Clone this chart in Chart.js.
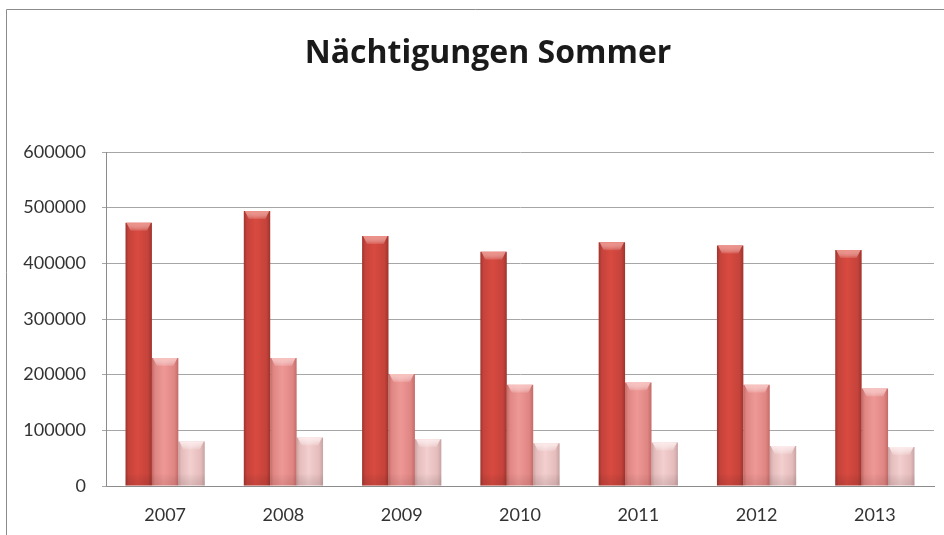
<!DOCTYPE html>
<html>
<head>
<meta charset="utf-8">
<script src="https://cdn.jsdelivr.net/npm/chart.js@4/dist/chart.umd.min.js"></script>
<style>
  html, body { margin: 0; padding: 0; background: #fff; }
  canvas { display: block; }
</style>
</head>
<body>
<canvas id="c" width="944" height="535"></canvas>
<script>
const titleText = "Nächtigungen Sommer";
const years = ["2007", "2008", "2009", "2010", "2011", "2012", "2013"];
const series1 = [473000, 494000, 449000, 421000, 438000, 432000, 424000];
const series2 = [230000, 230000, 201000, 182000, 186000, 182000, 175000];
const series3 = [80000, 87000, 84000, 77000, 78000, 72000, 70000];
const yTicks = [0, 100000, 200000, 300000, 400000, 500000, 600000];

const palettes = [
  { edge: "#9f342d", mid: "#d84a40", flat: "#c5433b", cap: "#ec8f86", bottom: "rgba(90,30,30,0.15)" },
  { edge: "#c46a68", mid: "#ee9896", flat: "#df8683", cap: "#f7c0bd", bottom: "rgba(90,40,40,0.12)" },
  { edge: "#c7a3a3", mid: "#f3cfcf", flat: "#e5bcbc", cap: "#fdeaea", bottom: "rgba(90,60,60,0.15)" }
];

function barFill(ctx) {
  const p = palettes[ctx.datasetIndex];
  const meta = ctx.chart.getDatasetMeta(ctx.datasetIndex);
  const el = meta && meta.data ? meta.data[ctx.dataIndex] : null;
  if (!el || !el.width || !isFinite(el.x)) return p.flat;
  const c = ctx.chart.ctx;
  const x0 = el.x - el.width / 2, x1 = el.x + el.width / 2;
  const g = c.createLinearGradient(x0, 0, x1, 0);
  g.addColorStop(0, p.edge);
  g.addColorStop(0.12, p.flat);
  g.addColorStop(0.45, p.mid);
  g.addColorStop(0.85, p.flat);
  g.addColorStop(1, p.edge);
  return g;
}

const framePlugin = {
  id: "frame",
  beforeDraw(chart) {
    const c = chart.ctx;
    c.save();
    c.strokeStyle = "#8c8c8c";
    c.lineWidth = 1;
    c.beginPath();
    c.moveTo(6.5, 535);
    c.lineTo(6.5, 9.5);
    c.lineTo(944, 9.5);
    c.stroke();
    c.restore();
  },
  afterDraw(chart) {
    const c = chart.ctx;
    c.save();
    c.fillStyle = "#1a1a1a";
    c.font = "bold 32px 'Open Sans'";
    c.textAlign = "center";
    c.textBaseline = "alphabetic";
    c.fillText(titleText, 488, 63);
    c.restore();
  }
};

const capPlugin = {
  id: "caps",
  afterDatasetsDraw(chart) {
    const c = chart.ctx;
    chart.data.datasets.forEach((ds, di) => {
      const meta = chart.getDatasetMeta(di);
      const p = palettes[di];
      meta.data.forEach(el => {
        const x0 = el.x - el.width / 2, w = el.width, y = el.y, b = el.base;
        c.save();
        const g = c.createLinearGradient(0, y, 0, y + 9);
        g.addColorStop(0, p.cap);
        g.addColorStop(1, "rgba(255,255,255,0)");
        c.fillStyle = g;
        c.beginPath();
        c.moveTo(x0 + 1, y);
        c.lineTo(x0 + w - 1, y);
        c.lineTo(x0 + w - 5, y + 8);
        c.lineTo(x0 + 5, y + 8);
        c.closePath();
        c.fill();
        const g2 = c.createLinearGradient(0, b - 12, 0, b);
        g2.addColorStop(0, "rgba(0,0,0,0)");
        g2.addColorStop(1, p.bottom);
        c.fillStyle = g2;
        c.fillRect(x0, b - 12, w, 12);
        c.restore();
      });
    });
  }
};

const chart = new Chart(document.getElementById("c"), {
  type: "bar",
  data: {
    labels: years,
    datasets: [
      { label: "Serie 1", data: series1, backgroundColor: barFill, borderWidth: 0 },
      { label: "Serie 2", data: series2, backgroundColor: barFill, borderWidth: 0 },
      { label: "Serie 3", data: series3, backgroundColor: barFill, borderWidth: 0 }
    ]
  },
  options: {
    responsive: false,
    animation: false,
    devicePixelRatio: 1,
    layout: { padding: { left: 0, right: 10, top: 152, bottom: 0 } },
    datasets: { bar: { barPercentage: 1.0, categoryPercentage: 0.67 } },
    plugins: {
      legend: { display: false },
      tooltip: { enabled: false },
      title: { display: false }
    },
    scales: {
      x: {
        grid: { display: false, drawTicks: false },
        border: { display: true, color: "#8c8c8c" },
        ticks: { color: "#333333", font: { family: "Lato", size: 18 }, padding: 18 },
        afterFit(s) { s.height = 49; }
      },
      y: {
        min: 0,
        max: 600000,
        afterBuildTicks(s) { s.ticks = yTicks.map(v => ({ value: v })); },
        grid: { color: "#a6a6a6", lineWidth: 1, tickLength: 4, drawTicks: true },
        border: { display: true, color: "#8c8c8c" },
        ticks: { color: "#333333", font: { family: "Lato", size: 18 }, padding: 16,
                 callback: v => String(v) },
        afterFit(s) { s.width = 106; }
      }
    }
  },
  plugins: [framePlugin, capPlugin]
});
chart.update("none");
</script>
</body>
</html>
